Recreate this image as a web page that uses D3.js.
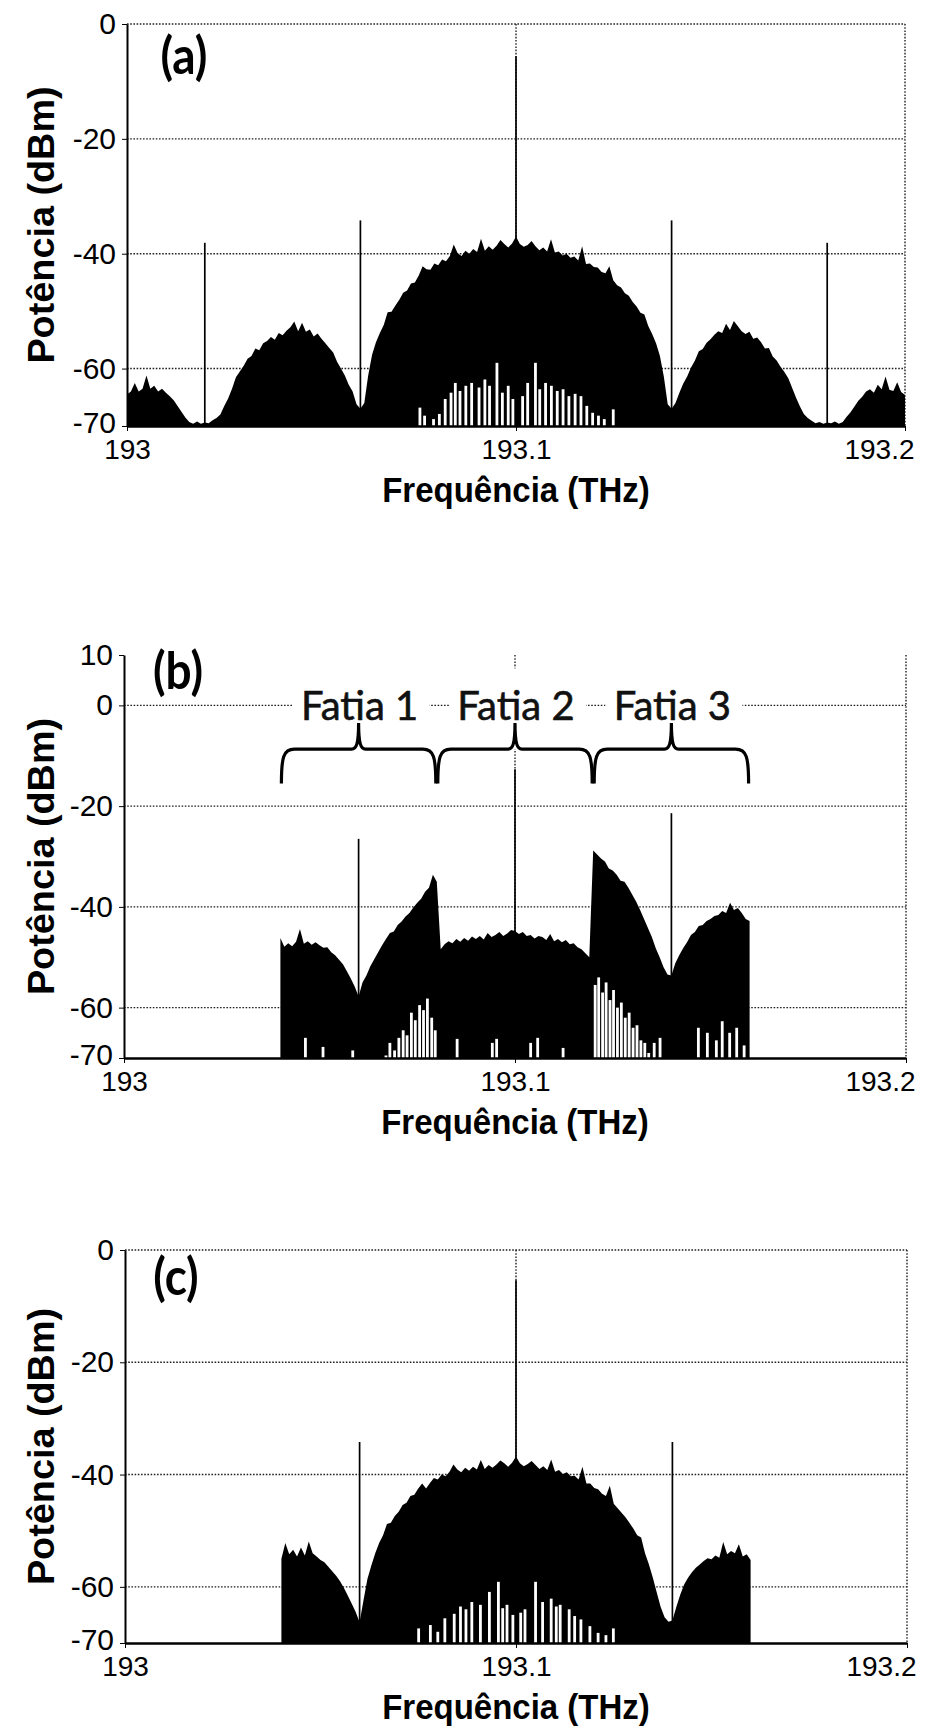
<!DOCTYPE html>
<html>
<head>
<meta charset="utf-8">
<script src="https://cdn.jsdelivr.net/npm/d3@7"></script>
<style>
  body { margin: 0; background: #fff; }
  svg { display: block; }
  .tick text { font-family: "Liberation Sans", Arial, sans-serif; font-size: 28px; fill: #000; }
  .yaxis .tick text { font-size: 30px; }
  .axis path, .axis line { stroke: #000; }
  .title { font-family: "Liberation Sans", Arial, sans-serif; font-weight: bold; fill: #000; }
  .plabel { font-family: Lato, "Open Sans", sans-serif; font-weight: bold; font-size: 46px; fill: #000; }
  .slice { font-family: Lato, "Open Sans", sans-serif; font-size: 40px; fill: #111; stroke: #111; stroke-width: 0.6; }
  .grid line { stroke: #222; stroke-width: 1.4; stroke-dasharray: 1.6 1.6; }
</style>
</head>
<body>
<svg id="fig" width="925" height="1726"></svg>
<script>
// ---- data ----
const freqTicks = [193, 193.1, 193.2];
const powTicks = [-70, -60, -40, -20, 0];
const powTicksB = [-70, -60, -40, -20, 0, 10];
const gridPow = [-60, -40, -20, 0];
const gridFreq = [193.1, 193.2];
const fStep = 0.001;

// (a) full spectrum, 193.000 .. 193.200 THz, one value per 1 GHz (dBm)
const startA = 193.0;
const specA = [
  -64.5,-64,-62.5,-64,-63.5,-61.2,-63.5,-63,-64,-63.5,-64.2,-64.8,-65.5,-66.5,-67.5,-68.5,-69.3,-69.6,-69.2,-69.6,
  -69.4,-69.5,-69,-68.6,-68,-66.5,-65.2,-63.5,-61.5,-60.5,-59.5,-58.3,-57.8,-56.5,-56.8,-55.6,-55.2,-54.5,-55,-53.8,
  -54.2,-53.4,-52.8,-51.8,-53.5,-52,-53.6,-53.2,-54.4,-53.9,-54.8,-55.6,-56.4,-57.2,-58.8,-60,-61.2,-62.8,-64,-66.2,
  -67,-66,-61.2,-57.6,-55.4,-53.8,-52.4,-50.2,-50.1,-49,-48,-46.8,-46.4,-45.2,-45,-43.8,-42.2,-42.7,-42.8,-41.7,
  -42,-41,-41.3,-40.4,-38.4,-39.9,-40.4,-39.5,-40,-39.2,-39.7,-37.4,-39.5,-38.7,-39.3,-38.6,-37.6,-38.3,-38.9,-38.2,
  -37,-38.3,-38.8,-38.5,-37.8,-38.7,-39.4,-38.9,-39.6,-37.5,-39.8,-39.6,-40.3,-40,-40.7,-40.5,-41.2,-38.7,-41.8,-41.7,
  -42.3,-42.4,-43.2,-43.4,-42.2,-44.6,-45.5,-45.9,-46.9,-47.3,-48.4,-49.2,-50.3,-50.6,-52.6,-54,-55.6,-57.8,-61.4,-66.2,
  -67,-66,-64.2,-62.6,-61.4,-59.8,-58.6,-57,-56.6,-55.5,-54.9,-54.1,-53.5,-53.8,-52.2,-53.3,-51.7,-52.6,-53.5,-54,
  -53.6,-54.8,-54.6,-55.4,-56.5,-56.4,-57.9,-58.6,-59.7,-60.6,-61.7,-63.4,-65.1,-66.6,-67.9,-68.6,-69.1,-69.5,-69.3,-69.6,
  -69.4,-69.5,-69.2,-69.6,-69.3,-68.4,-67.6,-66.6,-65.6,-64.9,-64,-63.6,-64.2,-62.8,-63.6,-61.4,-63.7,-63.9,-62.4,-64.1,
  -64.6
];
const tonesA = [[193.02, -38.1], [193.06, -34.2], [193.1, -5.6], [193.14, -34.2], [193.18, -38.1]];
// troughs between comb lines near the carrier: [THz, top of the white gap in dBm]
const gapsA = [
  [193.0753,-66.8],[193.0765,-68.2],[193.0788,-68.8],[193.0803,-67.9],[193.0818,-65.3],[193.0833,-64.2],[193.0844,-62.5],
  [193.0856,-63.9],[193.0871,-63.0],[193.0886,-62.5],[193.0905,-63.3],[193.0920,-61.9],[193.0932,-63.0],[193.0951,-59.0],
  [193.0965,-64.2],[193.0980,-63.0],[193.0992,-65.3],[193.1017,-64.8],[193.1030,-62.5],[193.1050,-59.0],[193.1061,-63.6],
  [193.1076,-62.5],[193.1091,-63.0],[193.1106,-63.9],[193.1121,-63.6],[193.1136,-64.8],[193.1152,-64.4],[193.1167,-64.8],
  [193.1182,-66.5],[193.1197,-67.7],[193.1212,-68.2],[193.1227,-68.8],[193.1250,-67.1]
];

// (b) sliced spectrum, 193.040 .. 193.160 THz
const startB = 193.04;
const specB = [
  -46.2,-47.9,-47.2,-47.8,-46.9,-44.4,-47.3,-46.8,-47.5,-47,-47.6,-48.1,-48,-49,-49.6,-50.5,-51.4,-52.8,-54.2,-55.8,
  -57.8,-55,-53.6,-51.8,-50.4,-49,-47.6,-46.4,-45.2,-44.9,-43.6,-42.9,-41.9,-41.2,-40.1,-39.2,-38.4,-37,-36.2,-33.6,
  -35,-48.4,-47.4,-46.8,-47.2,-46.4,-46.9,-46.2,-46.7,-45.9,-46.4,-45.8,-46.5,-45.2,-46,-45.6,-45,-45.8,-45.3,-44.6,
  -44.8,-45.4,-45,-45.8,-45.6,-46.3,-45.8,-46,-46.6,-45.4,-46.8,-46.4,-47,-46.6,-47.4,-47.2,-48,-48.4,-49.2,-50,
  -28.8,-29.6,-30.4,-31,-32.4,-32.8,-33.6,-34.8,-35,-36.2,-37.6,-39,-40.6,-42.4,-44.2,-46,-48.2,-50,-52,-53.4,
  -53.6,-51.2,-49.6,-48.2,-47,-45.6,-45,-43.8,-43.6,-42.8,-42.4,-41.8,-41.6,-40.8,-41.2,-39.2,-40.6,-40.2,-41.2,-42.4,
  -42.8
];
const tonesB = [[193.06, -26.5], [193.1, -12.7], [193.14, -21.4]];
const gapsB = [
  [193.0464,-66.0],[193.0509,-67.8],[193.0585,-68.5],
  [193.0670,-69.5],[193.0680,-67.0],[193.0692,-68.5],[193.0703,-66.0],[193.0714,-64.5],[193.0724,-65.5],[193.0735,-61.0],
  [193.0745,-62.5],[193.0756,-59.5],[193.0766,-60.5],[193.0776,-58.2],[193.0787,-62.0],[193.0796,-64.5],
  [193.0852,-66.2],[193.0942,-67.0],[193.0953,-66.2],[193.1040,-67.0],[193.1058,-66.0],[193.1123,-68.0],
  [193.1205,-55.5],[193.1214,-54.0],[193.1224,-57.0],[193.1233,-55.0],[193.1243,-58.5],[193.1252,-56.5],[193.1262,-60.0],
  [193.1272,-59.0],[193.1282,-62.0],[193.1292,-61.0],[193.1302,-64.0],[193.1312,-63.5],[193.1322,-66.5],[193.1332,-67.0],
  [193.1342,-69.0],[193.1356,-67.0],[193.1371,-66.0],
  [193.1469,-64.0],[193.1492,-65.0],[193.1515,-66.5],[193.1530,-62.7],[193.1549,-65.0],[193.1567,-64.0],[193.1586,-67.5]
];
const sliceEdges = [193.04, 193.08, 193.12, 193.16];
const sliceNames = ["Fatia 1", "Fatia 2", "Fatia 3"];

// (c) filtered spectrum, 193.040 .. 193.160 THz
const startC = 193.04;
const specC = [
  -55,-52.2,-54.2,-53.4,-54.6,-53,-54.4,-51.9,-54,-54.6,-55.2,-55.6,-56.4,-57.2,-58,-59,-60.2,-61.6,-63,-64.5,
  -66.3,-62.4,-58.6,-56.2,-54,-52.2,-50.8,-48.8,-48.6,-47.4,-46.6,-45.4,-45,-43.8,-43.6,-42.5,-41.6,-42.5,-41.5,-40.6,
  -40.9,-40,-40.3,-39.5,-38.2,-39.1,-39.6,-38.8,-39.3,-38.6,-39.1,-37.4,-39,-38.3,-38.8,-38.2,-37.5,-38,-38.6,-37.9,
  -36.8,-38,-38.5,-38.1,-37.6,-38.3,-39,-38.5,-39.2,-37.3,-39.5,-39.2,-39.9,-39.6,-40.3,-40.2,-40.9,-38.6,-41.6,-41.6,
  -42.4,-42.6,-43.4,-43.8,-42,-45.2,-46,-46.8,-47.6,-48.6,-49.6,-50.8,-51.2,-54,-56,-58.4,-61,-63.6,-65.4,-66.2,
  -66,-63.6,-61.4,-59.6,-58.4,-57.4,-56.6,-56,-55.4,-54.9,-55.1,-54.4,-54.8,-52,-54.2,-53.6,-54,-52.4,-54.6,-54.2,
  -55.2
];
const tonesC = [[193.06, -34.2], [193.1, -5.4], [193.14, -34.2]];
const gapsC = [
  [193.0751,-67.4],[193.0781,-66.8],[193.0800,-68.0],[193.0818,-65.6],[193.0842,-64.8],[193.0858,-63.5],[193.0872,-64.0],
  [193.0887,-62.7],[193.0909,-63.2],[193.0932,-60.9],[193.0955,-59.1],[193.0966,-63.8],[193.0977,-63.2],[193.0992,-65.0],
  [193.1012,-64.6],[193.1023,-64.0],[193.1050,-59.1],[193.1068,-62.7],[193.1090,-62.1],[193.1103,-63.5],[193.1113,-63.2],
  [193.1136,-64.0],[193.1150,-65.2],[193.1166,-65.8],[193.1189,-67.0],[193.1210,-68.2],[193.1230,-68.6],[193.1249,-67.4]
];

const panelNames = ["(a)", "(b)", "(c)"];

// ---- layout ----
const panels = [
  { left: 127, right: 905, top: 24, bottom: 426, yMax: 0, yTicks: powTicks,
    start: startA, spec: specA, tones: tonesA, gaps: gapsA, name: panelNames[0], nx: 57, ny: 30 },
  { left: 124, right: 906, top: 655, bottom: 1058, yMax: 10, yTicks: powTicksB,
    start: startB, spec: specB, tones: tonesB, gaps: gapsB, name: panelNames[1], nx: 54, ny: 14, slices: true },
  { left: 125, right: 907, top: 1250, bottom: 1643, yMax: 0, yTicks: powTicks,
    start: startC, spec: specC, tones: tonesC, gaps: gapsC, name: panelNames[2], nx: 51, ny: 25 }
];

const svg = d3.select("#fig");

function drawPanel(p) {
  const g = svg.append("g");
  const x = d3.scaleLinear().domain([193, 193.2]).range([p.left, p.right]);
  const y = d3.scaleLinear().domain([-70, p.yMax]).range([p.bottom, p.top]);

  // dotted grid
  const grid = g.append("g").attr("class", "grid");
  grid.selectAll("line.h").data(gridPow).join("line").attr("class", "h")
    .attr("x1", p.left).attr("x2", p.right)
    .attr("y1", d => y(d)).attr("y2", d => y(d));
  grid.selectAll("line.v").data(gridFreq).join("line").attr("class", "v")
    .attr("x1", d => x(d)).attr("x2", d => x(d))
    .attr("y1", p.top).attr("y2", p.bottom);

  // white boxes behind the slice labels (hide the grid there)
  if (p.slices) {
    const mids = sliceNames.map((s, i) => (x(sliceEdges[i]) + x(sliceEdges[i + 1])) / 2);
    g.selectAll("rect.box").data(mids).join("rect").attr("class", "box")
      .attr("x", d => d - 66).attr("width", 137)
      .attr("y", y(0) - 37).attr("height", 81)
      .attr("fill", "#fff");
  }

  // spectrum
  const pts = p.spec.map((v, i) => [p.start + i * fStep, v]);
  const area = d3.area().curve(d3.curveLinear)
    .x(d => x(d[0])).y0(y(-70)).y1(d => y(d[1]));
  g.append("path").datum(pts).attr("d", area).attr("fill", "#000");

  // white troughs between comb lines
  g.selectAll("rect.gap").data(p.gaps).join("rect").attr("class", "gap")
    .attr("x", d => x(d[0]) - 1.4).attr("width", 2.8)
    .attr("y", d => y(d[1])).attr("height", d => y(-70) - y(d[1]))
    .attr("fill", "#fff");

  // carrier / pilot tones
  g.selectAll("line.tone").data(p.tones).join("line").attr("class", "tone")
    .attr("x1", d => x(d[0])).attr("x2", d => x(d[0]))
    .attr("y1", y(-70)).attr("y2", d => y(d[1]))
    .attr("stroke", "#000").attr("stroke-width", 1.7);

  // axes
  const ya = g.append("g").attr("class", "axis yaxis")
    .attr("transform", `translate(${p.left},0)`)
    .call(d3.axisLeft(y).tickValues(p.yTicks).tickSize(5).tickSizeOuter(0).tickPadding(6)
      .tickFormat(d => String(d)));
  ya.select(".domain").attr("stroke-width", 2);
  ya.selectAll(".tick text").filter(d => d === -70).attr("dy", "0.22em");

  const xa = g.append("g").attr("class", "axis")
    .attr("transform", `translate(0,${p.bottom})`)
    .call(d3.axisBottom(x).tickValues(freqTicks).tickSize(5).tickSizeOuter(0).tickPadding(8)
      .tickFormat(d => String(d)));
  xa.select(".domain").attr("stroke-width", 2.4);
  xa.selectAll(".tick text").filter(d => d === 193.2).attr("text-anchor", "end").attr("x", 9);

  // titles
  g.append("text").attr("class", "title").style("font-size", "36px")
    .attr("transform", `translate(42,${(p.top + p.bottom) / 2}) rotate(-90) scale(1.05,1)`)
    .attr("text-anchor", "middle").attr("dominant-baseline", "central")
    .text("Potência (dBm)");
  g.append("text").attr("class", "title").style("font-size", "33px")
    .attr("transform", `translate(${(p.left + p.right) / 2},${p.bottom + 76}) scale(1,1.06)`)
    .attr("text-anchor", "middle")
    .text("Frequência (THz)");

  g.append("text").attr("class", "plabel")
    .attr("transform", `translate(${p.left + p.nx},${p.top + p.ny}) scale(1,1.12)`)
    .attr("text-anchor", "middle").attr("dominant-baseline", "central")
    .text(p.name);

  // slice braces and labels
  if (p.slices) {
    const yTip = y(-3.5), yBar = y(-8.7), yEnd = y(-15.5);
    sliceNames.forEach((s, i) => {
      const xl = x(sliceEdges[i]) + 1, xr = x(sliceEdges[i + 1]) - 1, xm = (xl + xr) / 2;
      const path = d3.path();
      path.moveTo(xl, yEnd);
      path.bezierCurveTo(xl, yBar + 8, xl + 2, yBar, xl + 13, yBar);
      path.lineTo(xm - 7, yBar);
      path.bezierCurveTo(xm - 2, yBar, xm, yBar - 6, xm, yTip);
      path.bezierCurveTo(xm, yBar - 6, xm + 2, yBar, xm + 7, yBar);
      path.lineTo(xr - 13, yBar);
      path.bezierCurveTo(xr - 2, yBar, xr, yBar + 8, xr, yEnd);
      g.append("path").attr("d", path.toString())
        .attr("fill", "none").attr("stroke", "#000").attr("stroke-width", 3.2);
      g.append("text").attr("class", "slice")
        .attr("x", xm + 1).attr("y", y(0))
        .attr("text-anchor", "middle").attr("dominant-baseline", "central")
        .text(s);
    });
  }
}

panels.forEach(drawPanel);
</script>
</body>
</html>
